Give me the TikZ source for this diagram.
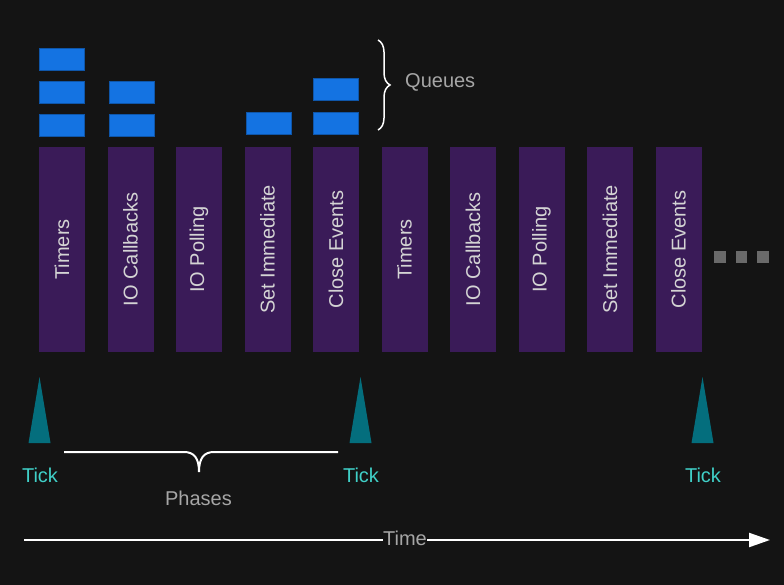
\documentclass[tikz,border=0pt]{standalone}
\usepackage{fontspec}
\setmainfont{Liberation Sans}
\usetikzlibrary{arrows.meta,decorations.pathreplacing,calc}
\definecolor{bgcol}{HTML}{141414}
\definecolor{barpurple}{HTML}{3A1B58}
\definecolor{qblue}{HTML}{1473E2}
\definecolor{tickfill}{HTML}{046E7D}
\definecolor{ticktext}{HTML}{40D0C8}
\definecolor{bartext}{HTML}{D4D4D4}
\definecolor{graytext}{HTML}{A6A6A6}
\definecolor{dotgray}{HTML}{6A6A6A}
\tikzset{
  bigfont/.style={font=\fontsize{20}{24}\selectfont},
  phasebar/.style={bigfont, rotate=90, fill=barpurple, text=bartext, minimum width=205pt, minimum height=46pt, inner sep=0pt, outer sep=0pt},
  qbox/.style={fill=qblue, draw=qblue!75!black, line width=0.6pt, minimum width=45pt, minimum height=22pt, inner sep=0pt},
  ticklabel/.style={bigfont, text=ticktext, anchor=base, inner sep=0pt},
  graylabel/.style={bigfont, text=graytext, inner sep=0pt},
  tickshape/.style={fill=tickfill},
  whiteline/.style={draw=white, line width=1.6pt},
  dotbox/.style={fill=dotgray},
}
\begin{document}
\begin{tikzpicture}[x=1pt,y=-1pt]
\useasboundingbox (0,0) rectangle (784,585);
\fill[bgcol] (0,0) rectangle (784,585);

% phase bars
\node[phasebar] (b1) at (62,249.5) {Timers};
\node[phasebar] (b2) at (130.5,249.5) {IO Callbacks};
\node[phasebar] (b3) at (199,249.5) {IO Polling};
\node[phasebar] (b4) at (267.5,249.5) {Set Immediate};
\node[phasebar] (b5) at (336,249.5) {Close Events};
\node[phasebar] (b6) at (404.5,249.5) {Timers};
\node[phasebar] (b7) at (473,249.5) {IO Callbacks};
\node[phasebar] (b8) at (541.5,249.5) {IO Polling};
\node[phasebar] (b9) at (610,249.5) {Set Immediate};
\node[phasebar] (b10) at (678.5,249.5) {Close Events};

% queues
\node[qbox] (q11) at (62,59) {};
\node[qbox] (q12) at (62,92) {};
\node[qbox] (q13) at (62,125.5) {};
\node[qbox] (q21) at (131.5,92) {};
\node[qbox] (q22) at (131.5,125.5) {};
\node[qbox] (q41) at (268.5,123) {};
\node[qbox] (q51) at (335.5,89.5) {};
\node[qbox] (q52) at (335.5,123) {};

% queues brace
\coordinate (qbtop) at (378,40);
\coordinate (qbbot) at (378,130);
\draw[whiteline, line width=1.5pt, decorate, decoration={brace, amplitude=12pt}] (qbtop) -- (qbbot);
\node[graylabel, anchor=base west] (queues) at (405,88) {Queues};

% dots
\fill[dotbox] (714,251) rectangle (725.5,263);
\fill[dotbox] (735.5,251) rectangle (747,263);
\fill[dotbox] (757,251) rectangle (768.5,263);

% ticks
\fill[tickshape] (28.5,443) -- (39.5,377) -- (50.5,443) -- cycle;
\fill[tickshape] (349.5,443) -- (360.5,377) -- (371.5,443) -- cycle;
\fill[tickshape] (691.5,443) -- (702.5,377) -- (713.5,443) -- cycle;
\node[ticklabel] (t1) at (40,482) {Tick};
\node[ticklabel] (t2) at (361,482) {Tick};
\node[ticklabel] (t3) at (703,482) {Tick};

% phases brace
\coordinate (pbl) at (64,452);
\coordinate (pbr) at (338,452);
\coordinate (pbtip) at (199,472);
\draw[whiteline, line width=2pt] (pbl) -- (184,452) .. controls (194,452) and (199,458) .. (pbtip)
  .. controls (199,458) and (204,452) .. (214,452) -- (pbr);
\node[graylabel, anchor=base] (phases) at (198.5,505) {Phases};

% time arrow
\coordinate (tstart) at (24,540);
\coordinate (tend) at (770,540);
\node[graylabel, anchor=base] (time) at (405,545) {Time};
\draw[whiteline, line width=2.2pt] (tstart) -- (tstart -| time.west);
\draw[whiteline, line width=2.2pt, -{Triangle[length=21pt,width=14pt]}] (tstart -| time.east) -- (tend);
\end{tikzpicture}
\end{document}
